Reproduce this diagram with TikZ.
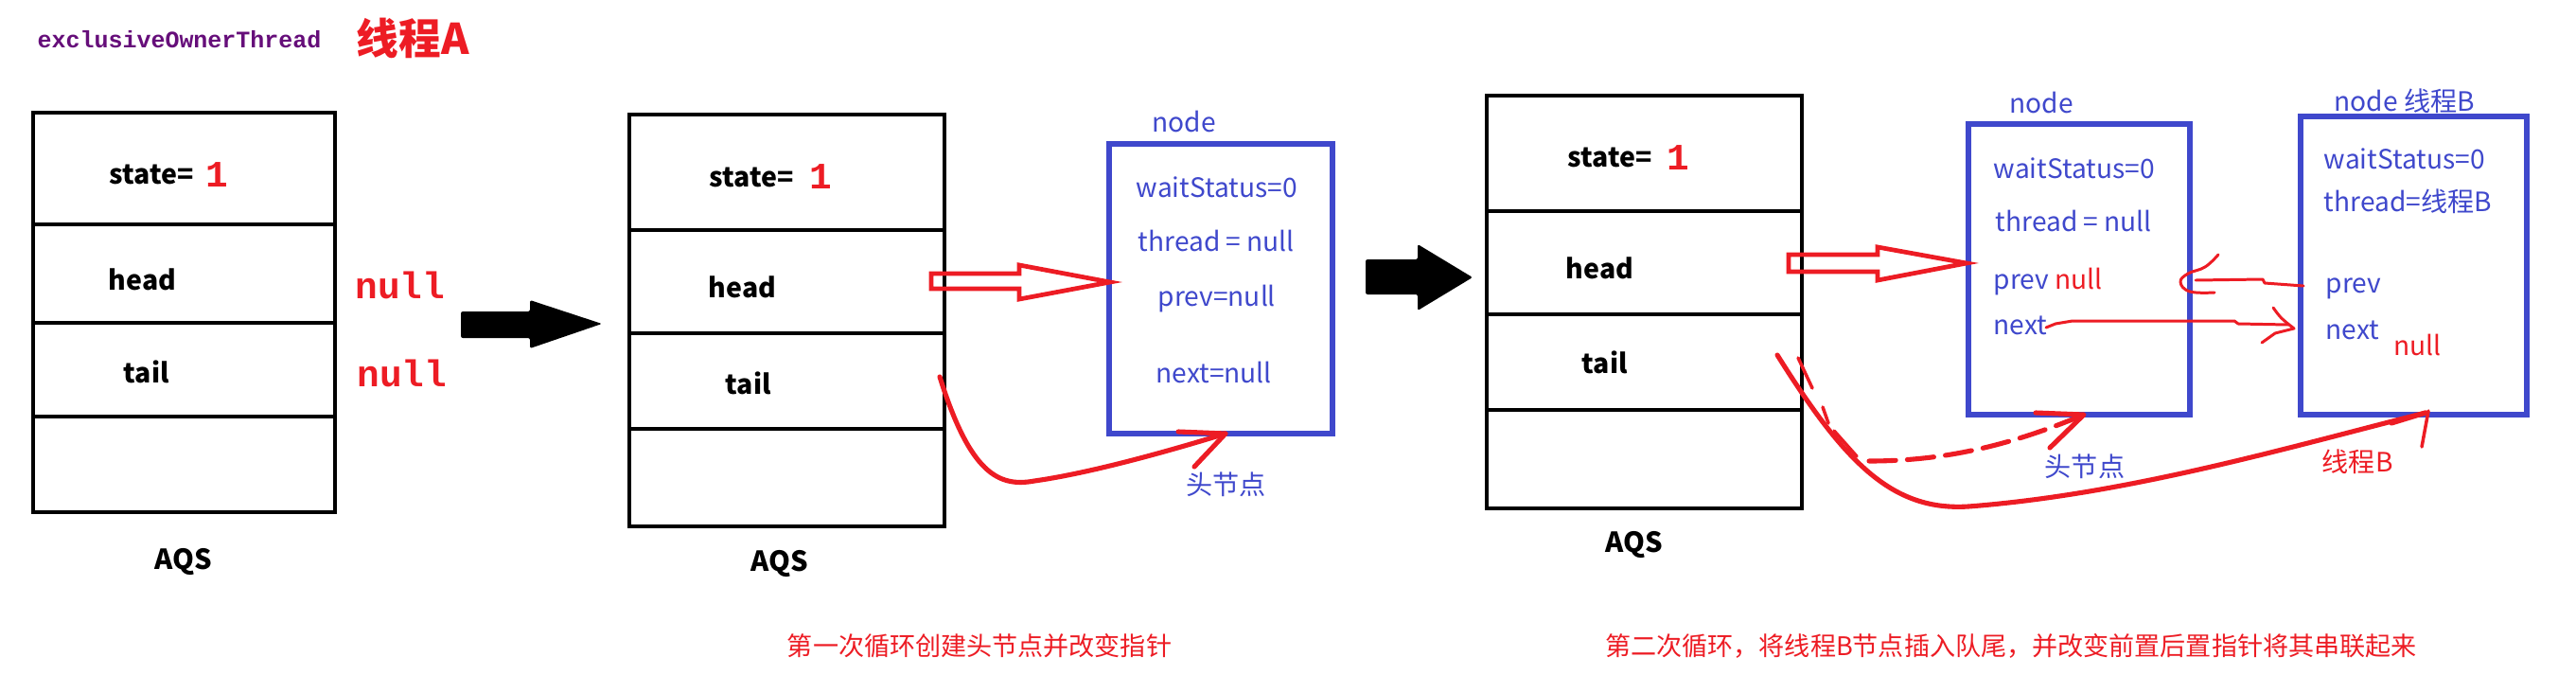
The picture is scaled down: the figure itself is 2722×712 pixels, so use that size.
\documentclass[tikz,border=0pt]{standalone}
\usepackage{fontspec}
\setmainfont{Noto Sans CJK SC}
\newfontfamily\monof{Liberation Mono}
\definecolor{pred}{HTML}{ED1C24}
\definecolor{pblue}{HTML}{3F48CC}
\definecolor{ppurple}{HTML}{660E7A}
\newcommand\boxnode[6]{%
  \node[#2, minimum width={(#5-#3)*0.01cm}, minimum height={(#6-#4)*0.01cm}] (#1) at ({(#3+#5)/2},{(#4+#6)/2}) {};}
\tikzset{
  cell/.style={draw=black, line width=1.05pt, inner sep=0, outer sep=0, rectangle},
  bluebox/.style={draw=pblue, line width=1.45pt, inner sep=0, outer sep=0, rectangle},
  lbl/.style={font=\fontsize{8.1}{10}\selectfont\bfseries, inner sep=0, anchor=west},
  aqs/.style={font=\fontsize{8.3}{10}\selectfont\bfseries, inner sep=0},
  btxt/.style={font=\fontsize{8}{10}\selectfont, text=pblue, inner sep=0, anchor=west},
  rtxt/.style={font=\fontsize{8}{10}\selectfont, text=pred, inner sep=0, anchor=west},
  rnull/.style={font=\monof\fontsize{11.2}{13}\selectfont\bfseries, text=pred, inner sep=0, anchor=west},
  redline/.style={draw=pred, line width=1.45pt, line cap=round, line join=round},
  thinred/.style={draw=pred, line width=0.85pt, line cap=round, line join=round},
  hollow/.style={draw=pred, line width=1.35pt, line join=miter},
  blackarrow/.style={fill=black, rounded corners=0.6pt},
  caption/.style={font=\fontsize{7.7}{9}\selectfont, text=pred, inner sep=0},
}
\begin{document}
\begin{tikzpicture}[x=0.01cm, y=-0.01cm]
\fill[white] (0,0) rectangle (2722,712);
\useasboundingbox (0,0) rectangle (2722,712);

% ---------- frame 1 ----------
\node[font=\monof\fontsize{7.1}{9}\selectfont\bfseries, text=ppurple, inner sep=0, anchor=west] (eot) at (39,42) {exclusiveOwnerThread};
\node[font=\fontsize{12.7}{14}\selectfont\bfseries, text=pred, inner sep=0, anchor=west] (thA) at (376,40) {线程A};

\boxnode{a1s}{cell}{35}{119}{354}{237}
\boxnode{a1h}{cell}{35}{237}{354}{341}
\boxnode{a1t}{cell}{35}{341}{354}{440}
\boxnode{a1e}{cell}{35}{440}{354}{541}
\node[lbl] (st1) at (115,184) {state=};
\node[rnull] (one1) at (217,185) {1};
\node[lbl] (hd1) at (114,295) {head};
\node[lbl] (tl1) at (130,393) {tail};
\node[rnull] (nh1) at (375,301) {null};
\node[rnull] (nt1) at (377,394) {null};
\node[aqs] (q1) at (194,593) {AQS};

\fill[blackarrow] (487,329) -- (560,329) -- (560,317) -- (636,342) -- (560,368) -- (560,357) -- (487,357) -- cycle;

% ---------- frame 2 ----------
\boxnode{a2s}{cell}{665}{121}{998}{243}
\boxnode{a2h}{cell}{665}{243}{998}{352}
\boxnode{a2t}{cell}{665}{352}{998}{453}
\boxnode{a2e}{cell}{665}{453}{998}{556}
\node[lbl] (st2) at (749,187) {state=};
\node[rnull] (one2) at (855,187) {1};
\node[lbl] (hd2) at (748,303) {head};
\node[lbl] (tl2) at (766,405) {tail};
\node[aqs] (q2) at (824,595) {AQS};

\boxnode{n1}{bluebox}{1172}{152}{1408}{458}
\node[btxt] (n1l) at (1217,128) {node};
\node[btxt] (n1a) at (1200,198) {waitStatus=0};
\node[btxt] (n1b) at (1202,254) {thread = null};
\node[btxt] (n1c) at (1223,316) {prev=null};
\node[btxt] (n1d) at (1221,393) {next=null};
\node[btxt] (hn1) at (1253,512) {头节点};

\draw[hollow] (984,289) -- (1077,289) -- (1077,280) -- (1173,298) -- (1077,316) -- (1077,305) -- (984,305) -- cycle;

\coordinate (c1s) at (993,398);
\coordinate (c1b) at (1093,508);
\coordinate (c1e) at (1295,458);
\draw[redline] (c1s) .. controls (1025,500) and (1055,515) .. (c1b) .. controls (1150,500) and (1230,478) .. (c1e);
\draw[redline] (1245,456) -- (c1e) -- (1262,493);

\node[caption] (cap1) at (1035,682) {第一次循环创建头节点并改变指针};

\fill[blackarrow] (1443,274) -- (1498,274) -- (1498,258) -- (1556,293) -- (1498,328) -- (1498,311) -- (1443,311) -- cycle;

% ---------- frame 3 ----------
\boxnode{a3s}{cell}{1571}{101}{1904}{223}
\boxnode{a3h}{cell}{1571}{223}{1904}{332}
\boxnode{a3t}{cell}{1571}{332}{1904}{433}
\boxnode{a3e}{cell}{1571}{433}{1904}{537}
\node[lbl] (st3) at (1656,166) {state=};
\node[rnull] (one3) at (1761,167) {1};
\node[lbl] (hd3) at (1654,283) {head};
\node[lbl] (tl3) at (1671,383) {tail};
\node[aqs] (q3) at (1727,575) {AQS};

\boxnode{n2}{bluebox}{2080}{131}{2314}{438}
\node[btxt] (n2l) at (2123,108) {node};
\node[btxt] (n2a) at (2106,178) {waitStatus=0};
\node[btxt] (n2b) at (2108,233) {thread = null};
\node[btxt] (n2c) at (2106,298) {prev \textcolor{pred}{null}};
\node[btxt] (n2d) at (2106,344) {next};
\node[btxt] (hn2) at (2160,493) {头节点};

\boxnode{n3}{bluebox}{2431}{123}{2670}{438}
\node[btxt] (n3l) at (2466,107) {node 线程B};
\node[btxt] (n3a) at (2455,168) {waitStatus=0};
\node[btxt] (n3b) at (2455,213) {thread=线程B};
\node[btxt] (n3c) at (2457,305) {prev};
\node[btxt] (n3d) at (2457,349) {next};
\node[rtxt] (n3n) at (2529,364) {null};
\node[rtxt] (thB) at (2453,488) {线程B};

\draw[hollow] (1890,269) -- (1984,269) -- (1984,261) -- (2078,278) -- (1984,296) -- (1984,287) -- (1890,287) -- cycle;

% prev pointer (node B -> node)
\coordinate (ps) at (2434,302);
\coordinate (pe) at (2320,296);
\draw[thinred] (ps) -- (2393,299) -- (2391,295) -- (pe);
\draw[thinred] plot[smooth, tension=0.7] coordinates {(2344,269) (2330,282) (2312,289) (2304,298) (2314,308) (2340,309)};

% next pointer (node -> node B)
\coordinate (xs) at (2162,346);
\coordinate (xe) at (2424,347);
\draw[thinred] (xs) -- (2172,342) -- (2190,339) -- (2361,339) -- (2365,342) -- (2418,343);
\draw[thinred] (2402,325) .. controls (2410,336) .. (xe) -- (2404,352) -- (2390,362);

% tail -> node B (solid)
\coordinate (ts) at (1878,375);
\coordinate (tb) at (2080,535);
\coordinate (te) at (2563,436);
\draw[redline] (ts) .. controls (1950,490) and (2000,540) .. (tb) .. controls (2250,522) and (2420,472) .. (te);
\draw[redline] (2527,447) -- (te);
\draw[thinred, line width=1pt] (2566,434) -- (2559,472);

% old tail -> head node (erased, dashed)
\draw[redline, line width=1pt] (1900,378) -- (1915,410);
\draw[redline, line width=1pt] (1926,430) -- (1932,447);
\draw[redline, line width=1pt] (1938,455) -- (1962,482);
\coordinate (ds) at (1975,487);
\coordinate (de) at (2202,438);
\draw[redline, dash pattern=on 8pt off 3.5pt] (ds) .. controls (2060,487) and (2130,468) .. (de);
\draw[redline] (2151,436) -- (de) -- (2166,473);

\node[caption] (cap2) at (2125,682) {第二次循环，将线程B节点插入队尾，并改变前置后置指针将其串联起来};
\end{tikzpicture}
\end{document}
